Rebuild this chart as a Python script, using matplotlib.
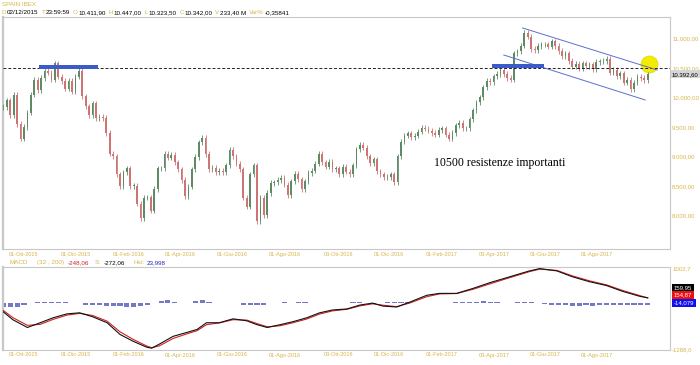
"""
IBEX 35 daily chart with MACD panel, redrawn with matplotlib.
"""

import matplotlib
matplotlib.use("Agg")
import matplotlib.pyplot as plt
import matplotlib.dates as mdates
import matplotlib.transforms as mtransforms
import numpy as np
import pandas as pd

# ---------------------------------------------------------------- data
# closes, one every 4 calendar days
CANDLE_START = "2015-09-08"
CANDLE_STEP = "4D"
closes = [
    9840, 9950, 9700, 10050, 9550, 9300, 9500, 9740, 10050, 10300,
    10120, 10330, 10450, 10420, 10300, 10580, 10350, 10280, 10150, 10280,
    10100, 10350, 10450, 10020, 9850, 9700, 9900, 9650, 9670, 9650,
    9400, 9050, 9000, 8700, 8500, 8730, 8800, 8500, 8500, 8200,
    7950, 8300, 8310, 8080, 8450, 8800, 8800, 9050, 8980, 9030,
    8900, 8780, 8600, 8330, 8490, 8780, 8990, 9240, 9320, 9040,
    8780, 8810, 8730, 8760, 8730, 8850, 9110, 9000, 8880, 8780,
    8300, 8150, 8700, 8850, 7900, 8300, 8000, 8380, 8550, 8560,
    8600, 8640, 8520, 8340, 8580, 8710, 8610, 8450, 8580, 8720,
    8760, 8880, 9050, 8900, 8830, 8910, 8780, 8800, 8700, 8820,
    8740, 8700, 8850, 9120, 9200, 9150, 9000, 8890, 8950, 8750,
    8700, 8650, 8650, 8700, 8560, 9000, 9250, 9350, 9390, 9330,
    9350, 9420, 9490, 9470, 9440, 9400, 9370, 9450, 9480, 9370,
    9300, 9400, 9530, 9570, 9480, 9480, 9630, 9780, 9920, 10000,
    10170, 10280, 10260, 10360, 10400, 10470, 10400, 10330, 10300, 10750,
    10780, 10880, 11100, 11030, 10820, 10800, 10870, 10900, 10900, 10860,
    10950, 10870, 10790, 10700, 10750, 10620, 10520, 10570, 10490, 10580,
    10530, 10560, 10480, 10600, 10610, 10620, 10650, 10420, 10470, 10360,
    10410, 10250, 10300, 10140, 10250, 10350, 10330, 10290, 10390,
]
last_price = 10392.60

macd_dates = [
    "2015-09-08", "2015-09-19", "2015-10-06", "2015-10-21", "2015-11-05",
    "2015-11-21", "2015-12-06", "2015-12-21", "2016-01-07", "2016-01-22",
    "2016-02-06", "2016-02-22", "2016-02-28", "2016-03-08", "2016-03-24",
    "2016-04-09", "2016-04-21", "2016-05-02", "2016-05-17", "2016-06-02",
    "2016-06-18", "2016-06-30", "2016-07-12", "2016-07-27", "2016-08-11",
    "2016-08-27", "2016-09-11", "2016-09-26", "2016-10-13", "2016-10-28",
    "2016-11-12", "2016-11-24", "2016-12-10", "2016-12-25", "2017-01-14",
    "2017-01-29", "2017-02-18", "2017-03-09", "2017-03-29", "2017-04-17",
    "2017-05-02", "2017-05-14", "2017-05-26", "2017-06-15", "2017-07-03",
    "2017-07-23", "2017-08-12", "2017-08-31", "2017-09-20", "2017-09-29",
]
macd_line = [
    -240, -460, -680, -545, -405, -295, -265, -375, -545, -875,
    -1065, -1235, -1265, -1150, -930, -820, -735, -545, -545, -435,
    -490, -600, -680, -600, -515, -405, -265, -185, -155, -45,
    10, -75, -100, 35, 230, 285, 285, 425, 590, 725,
    835, 920, 985, 920, 755, 615, 505, 340, 200, 160,
]
signal_line = [
    -200, -400, -620, -590, -450, -330, -280, -340, -500, -800,
    -1010, -1200, -1250, -1200, -990, -860, -770, -600, -550, -460,
    -470, -570, -660, -630, -545, -440, -300, -210, -165, -70,
    -10, -50, -90, 10, 190, 270, 280, 400, 555, 700,
    810, 900, 970, 935, 780, 640, 525, 365, 220, 155,
]

# histogram, one bar every 8 calendar days
HIST_START = "2015-09-08"
HIST_STEP = "8D"
hist_values = [
    -110, -110, -100, -55, 25, 30, 40, 55, 55, 30,
    25, 5, -30, -55, -55, -60, -80, -85, -100, -105,
    -60, -45, 20, 70, 85, 55, 25, 10, 80, 85,
    30, 20, 25, 15, 20, -30, -55, -50, -40, 5,
    25, 30, 25, 30, 30, 25, 25, 15, 10, 10,
    25, 40, 55, 20, -25, 15, 40, 40, 55, 50,
    25, 15, 10, 15, 25, 25, 30, 30, 40, 55,
    60, 55, 45, 25, 20, 35, 50, 30, 5, -15,
    -30, -40, -55, -60, -60, -55, -60, -55, -55, -50,
    -50, -45, -45, -40, -35,
]
macd_last = {"macd": 159.95, "signal": 154.87, "hist": -14.079}
macd_range = (-1288.0, 1002.7)

tick_dates = [
    "2015-10-01", "2015-12-01", "2016-02-01", "2016-04-01", "2016-06-01",
    "2016-08-01", "2016-10-03", "2016-12-01", "2017-02-01", "2017-04-03",
    "2017-06-01", "2017-08-01",
]
IT_MONTHS = {1: "Gen", 2: "Feb", 3: "Mar", 4: "Apr", 5: "Mag", 6: "Giu",
             7: "Lug", 8: "Ago", 9: "Set", 10: "Ott", 11: "Nov", 12: "Dic"}
price_ticks = [8000, 8500, 9000, 9500, 10000, 10500, 11000]

# drawings on the chart
resistance = 10500
resistance_zones = [("2015-10-20", "2015-12-27", 10520),
                    ("2017-03-31", "2017-05-31", 10540)]
channel_upper = [("2017-05-06", 11178), ("2017-10-10", 10466)]
channel_lower = [("2017-04-14", 10720), ("2017-09-26", 9958)]
highlight = ("2017-10-01", 10560)
note = ("2017-01-22", 8890, "10500 resistenze importanti")

header = [("D", "02/12/2015"), ("T", "23:59:59"), ("O", "10.411,90"),
          ("H", "10.447,00"), ("L", "10.323,50"), ("C", "10.342,00"),
          ("V", "233,40 M"), ("Var%", "-0,35841")]

# ---------------------------------------------------------------- style
W, H = 700, 365
FONT = "Liberation Sans"
GOLD = "#d8b54a"
UP = "#5f8a66"
DOWN = "#cf7474"
FRAME = "#c8c8c8"
WICK = 45


def it_num(v, dec):
    s = f"{v:,.{dec}f}"
    return s.replace(",", "X").replace(".", ",").replace("X", ".")


def px_axes(fig, left, top, right, bottom):
    return fig.add_axes([left / W, 1 - bottom / H, (right - left) / W, (bottom - top) / H])


def frame(ax):
    for s in ax.spines.values():
        s.set_color(FRAME)
        s.set_linewidth(0.8)
    ax.spines["left"].set_linewidth(1.6)


def text_run(fig, x_px, y_px, parts, size):
    r = fig.canvas.get_renderer()
    x = x_px
    for s, col, gap in parts:
        t = fig.text(x / W, 1 - y_px / H, s, color=col, fontsize=size,
                     family=FONT, ha="left", va="center")
        x += t.get_window_extent(renderer=r).width + gap


fig = plt.figure(figsize=(W / 100, H / 100), dpi=100)
fig.patch.set_facecolor("white")

ax = px_axes(fig, 3, 17, 670, 249)
axm = px_axes(fig, 3, 267, 670, 350)

xmin = mdates.date2num(pd.Timestamp("2015-09-07")) + 0.5
xmax = mdates.date2num(pd.Timestamp("2017-10-25"))

# ---------------------------------------------------------------- candles
dates = pd.date_range(CANDLE_START, periods=len(closes), freq=CANDLE_STEP)
x = mdates.date2num(dates)
c = np.array(closes, float)
o = np.concatenate([[c[0]], c[:-1]])
up = c >= o
cols = np.where(up, UP, DOWN)
ax.vlines(x, np.minimum(o, c) - WICK, np.maximum(o, c) + WICK, colors=cols, lw=0.6, zorder=3)
ax.bar(x, np.maximum(np.abs(c - o), 10), bottom=np.minimum(o, c), width=2.0,
       color=cols, lw=0, zorder=3)

# resistance and drawings
ax.axhline(resistance, color="#222222", lw=0.7, ls=(0, (3, 2)), zorder=4)
for d0, d1, lvl in resistance_zones:
    x0, x1 = mdates.date2num(pd.Timestamp(d0)), mdates.date2num(pd.Timestamp(d1))
    ax.add_patch(plt.Rectangle((x0, lvl - 35), x1 - x0, 70, color="#3a5bc8", lw=0, zorder=5))
for line in (channel_upper, channel_lower):
    lx = [mdates.date2num(pd.Timestamp(d)) for d, _ in line]
    ly = [v for _, v in line]
    ax.plot(lx, ly, color="#5b6fd0", lw=0.7, zorder=4)
ax.scatter([mdates.date2num(pd.Timestamp(highlight[0]))], [highlight[1]], s=150,
           color="#f3ec00", edgecolor="#e2d800", lw=0.5, zorder=2)
ax.text(mdates.date2num(pd.Timestamp(note[0])), note[1], note[2], family="Liberation Serif",
        fontsize=8.5, color="black", ha="left", va="center", zorder=6)

ax.set_xlim(xmin, xmax)
ax.set_ylim(7432, 11364)

ticks = [pd.Timestamp(d) for d in tick_dates]
tick_labels = [f"{d.day:02d}-{IT_MONTHS[d.month]}-{d.year}" for d in ticks]
for a, pad in ((ax, 2.2), (axm, 1.8)):
    a.set_xticks(mdates.date2num(ticks))
    a.set_xticklabels(tick_labels)
    a.tick_params(axis="x", length=0, pad=pad, labelsize=4, labelcolor=GOLD)
    a.yaxis.tick_right()
    a.tick_params(axis="y", length=0, pad=1.6, labelsize=4.3, labelcolor=GOLD)
    for lab in a.get_xticklabels() + a.get_yticklabels():
        lab.set_family(FONT)
    frame(a)

ax.set_yticks(price_ticks)
ax.set_yticklabels([it_num(v, 2) for v in price_ticks])

blend = mtransforms.blended_transform_factory(ax.transAxes, ax.transData)
ax.text(1.003, last_price, it_num(last_price, 2), transform=blend, fontsize=4.3,
        family=FONT, color="black", ha="left", va="center",
        bbox=dict(boxstyle="square,pad=0.25", fc="#d6d6d6", ec="none"))

# ---------------------------------------------------------------- MACD
hd = pd.date_range(HIST_START, periods=len(hist_values), freq=HIST_STEP)
axm.bar(mdates.date2num(hd), hist_values, width=6, color="#7479c4", lw=0, zorder=2)
md = mdates.date2num(pd.to_datetime(macd_dates))
axm.plot(md, signal_line, color="#d42020", lw=0.8, zorder=3)
axm.plot(md, macd_line, color="#111111", lw=0.8, zorder=4)
axm.set_xlim(xmin, xmax)
axm.set_ylim(macd_range[0] - 28, macd_range[1] + 28)
axm.set_yticks(list(macd_range))
axm.set_yticklabels([f"{v:.1f}".replace(".", ",") for v in macd_range])

for (key, bg), yf in zip((("macd", "black"), ("signal", "#ee1010"), ("hist", "#1010ee")),
                         (0.745, 0.66, 0.565)):
    val = macd_last[key]
    txt = f"{val:.3f}" if key == "hist" else f"{val:.2f}"
    axm.text(1.006, yf, txt.replace(".", ","), transform=axm.transAxes, fontsize=4.3,
             family=FONT, color="white", ha="left", va="center",
             bbox=dict(boxstyle="square,pad=0.3", fc=bg, ec="none"))

# ---------------------------------------------------------------- headers
fig.text(2 / W, 1 - 4.5 / H, "SPAIN IBEX", color=GOLD, fontsize=4.5, family=FONT,
         ha="left", va="center")
parts = []
for k, v in header:
    parts.append((k, GOLD, 0.6))
    parts.append((v, "black", 2.8))
text_run(fig, 2, 12.5, parts, 4.5)

text_run(fig, 10, 262.5, [("MACD", GOLD, 9), ("(32 , 200)", GOLD, 3), ("-248,06", "#d02020", 6),
                          ("S:", GOLD, 3), ("-272,06", "black", 8), ("Hst:", GOLD, 3),
                          ("23,998", "#2020c0", 0)], 4.5)

fig.savefig("out.png", dpi=100, facecolor="white")
